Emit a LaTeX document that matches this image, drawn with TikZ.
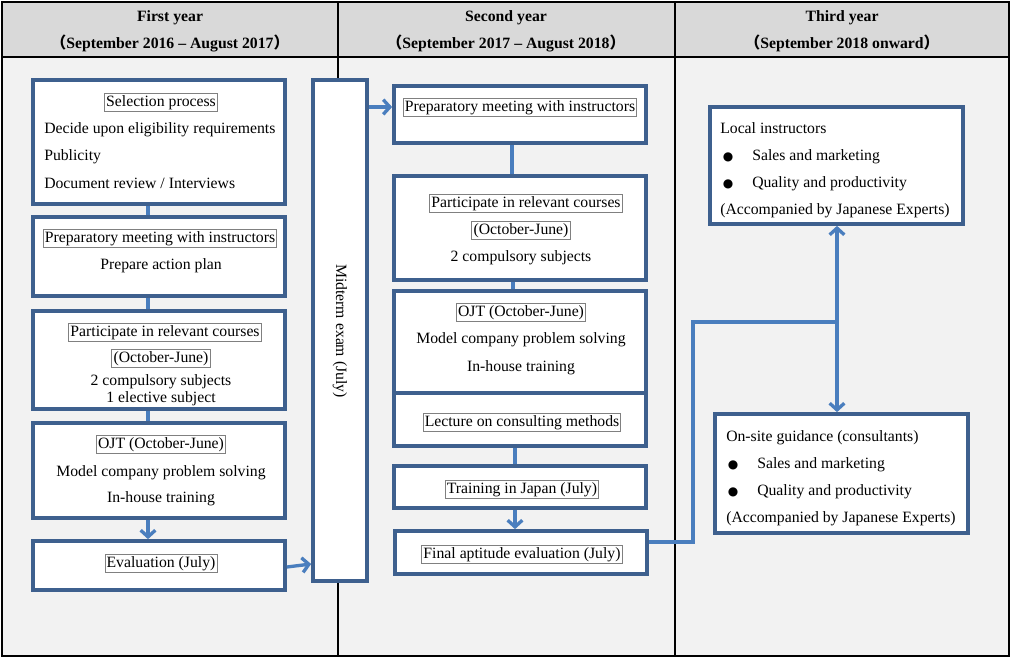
\documentclass[tikz,border=0pt]{standalone}
\usepackage{fontspec}
\setmainfont{Liberation Serif}
\newfontfamily\cjkparen{Noto Sans CJK JP}
\newfontfamily\symfont{DejaVu Sans}
\usetikzlibrary{arrows.meta,calc}

\definecolor{boxblue}{RGB}{62,96,142}
\definecolor{linkblue}{RGB}{74,126,190}
\definecolor{taggray}{RGB}{128,128,128}
\definecolor{headgray}{RGB}{217,217,217}
\definecolor{bodygray}{RGB}{242,242,242}

\newcommand{\lp}{{\cjkparen （}}
\newcommand{\rp}{{\cjkparen ）}}
\newcommand{\blt}{{\symfont\fontsize{9}{9}\selectfont ●}}

\begin{document}
\begin{tikzpicture}[x=0.75pt,y=-0.75pt,
  font=\fontsize{11.8}{14}\selectfont,
  blk/.style={draw=boxblue, line width=2.8pt, fill=white, inner sep=0pt},
  tag/.style={draw=taggray, line width=0.7pt, fill=white, inner sep=1.2pt,
              text height=8.6pt, text depth=2.6pt, yshift=-0.8pt},
  txt/.style={inner sep=0pt, text height=8.6pt, text depth=2.6pt, yshift=-0.8pt},
  head/.style={inner sep=0pt, text height=8.6pt, text depth=2.6pt, yshift=-0.6pt,
               font=\fontsize{11.8}{14}\selectfont\bfseries},
  link/.style={draw=linkblue, line width=2.5pt},
  arr/.style={link, -{Straight Barb[length=5pt,width=11pt]}}]

\useasboundingbox (0,0) rectangle (1011,658);

% table frame, header band and column rules
\draw[line width=0.8pt, fill=bodygray] (2,2) rectangle (1009,656);
\fill[headgray] (2,2) rectangle (1009,57);
\draw[line width=0.8pt] (2,2) rectangle (1009,656);
\draw[line width=0.8pt] (2,57) -- (1009,57);
\draw[line width=0.8pt] (338,2) -- (338,656);
\draw[line width=0.8pt] (675,2) -- (675,656);

\node[head] (h1a) at (170,17) {First year};
\node[head] (h1b) at (170,44) {\lp September 2016 – August 2017\rp};
\node[head] (h2a) at (506,17) {Second year};
\node[head] (h2b) at (506,44) {\lp September 2017 – August 2018\rp};
\node[head] (h3a) at (842,17) {Third year};
\node[head] (h3b) at (842,44) {\lp September 2018 onward\rp};

% ---- first year ----
\node[blk, minimum width=252*0.75pt, minimum height=124*0.75pt] (c1a) at (159,142) {};
\node[tag] (c1a1) at (161,101) {Selection process};
\node[txt, anchor=west] (c1a2) at (44,128) {Decide upon eligibility requirements};
\node[txt, anchor=west] (c1a3) at (44,155) {Publicity};
\node[txt, anchor=west] (c1a4) at (44,183) {Document review / Interviews};

\node[blk, minimum width=252*0.75pt, minimum height=79*0.75pt] (c1b) at (159,256.5) {};
\node[tag] (c1b1) at (160,237) {Preparatory meeting with instructors};
\node[txt] (c1b2) at (161,264) {Prepare action plan};

\node[blk, minimum width=252*0.75pt, minimum height=98*0.75pt] (c1c) at (159,360) {};
\node[tag] (c1c1) at (165,331) {Participate in relevant courses\hspace{7pt}};
\node[tag] (c1c2) at (161,357) {(October-June)};
\node[txt] (c1c3) at (161,380) {2 compulsory subjects};
\node[txt] (c1c4) at (161,397) {1 elective subject};

\node[blk, minimum width=252*0.75pt, minimum height=95*0.75pt] (c1d) at (159,470.5) {};
\node[tag] (c1d1) at (161,443) {OJT (October-June)};
\node[txt] (c1d2) at (161,471) {Model company problem solving};
\node[txt] (c1d3) at (161,497) {In-house training};

\node[blk, minimum width=252*0.75pt, minimum height=49*0.75pt] (c1e) at (159,565.5) {};
\node[tag] (c1e1) at (161,562) {Evaluation (July)};

% ---- midterm exam ----
\node[blk, minimum width=54*0.75pt, minimum height=501*0.75pt] (mid) at (340,330.5) {};
\node[inner sep=0pt, rotate=-90] (midt) at (340,331) {Midterm exam (July)};

% ---- second year ----
\node[blk, minimum width=252*0.75pt, minimum height=57*0.75pt] (c2a) at (520,114.5) {};
\node[tag] (c2a1) at (520,106) {Preparatory meeting with instructors};

\node[blk, minimum width=252*0.75pt, minimum height=104*0.75pt] (c2b) at (520,228) {};
\node[tag] (c2b1) at (526,202) {Participate in relevant courses\hspace{7pt}};
\node[tag] (c2b2) at (521,229) {(October-June)};
\node[txt] (c2b3) at (521,256) {2 compulsory subjects};

\node[blk, minimum width=252*0.75pt, minimum height=102*0.75pt] (c2c) at (520,342) {};
\node[tag] (c2c1) at (521,311) {OJT (October-June)};
\node[txt] (c2c2) at (521,338) {Model company problem solving};
\node[txt] (c2c3) at (521,366) {In-house training};

\node[blk, minimum width=252*0.75pt, minimum height=53*0.75pt] (c2d) at (520,419.5) {};
\node[tag] (c2d1) at (522,421) {Lecture on consulting methods};

\node[blk, minimum width=252*0.75pt, minimum height=42*0.75pt] (c2e) at (520,487) {};
\node[tag] (c2e1) at (522,488) {Training in Japan (July)};

\node[blk, minimum width=252*0.75pt, minimum height=43*0.75pt] (c2f) at (521,552.5) {};
\node[tag] (c2f1) at (522,553) {Final aptitude evaluation (July)};

% ---- third year ----
\node[blk, minimum width=253*0.75pt, minimum height=117*0.75pt] (t1) at (836.5,165.5) {};
\node[txt, anchor=west] (t1a) at (720,128) {Local instructors};
\node[txt] (t1b0) at (728,155) {\blt};
\node[txt, anchor=west] (t1b) at (752,155) {Sales and marketing};
\node[txt] (t1c0) at (728,182) {\blt};
\node[txt, anchor=west] (t1c) at (752,182) {Quality and productivity};
\node[txt, anchor=west] (t1d) at (720,209) {(Accompanied by Japanese Experts)};

\node[blk, minimum width=253*0.75pt, minimum height=119*0.75pt] (t2) at (841.5,473.5) {};
\node[txt, anchor=west] (t2a) at (726,436) {On-site guidance (consultants)};
\node[txt] (t2b0) at (733,463) {\blt};
\node[txt, anchor=west] (t2b) at (757,463) {Sales and marketing};
\node[txt] (t2c0) at (733,490) {\blt};
\node[txt, anchor=west] (t2c) at (757,490) {Quality and productivity};
\node[txt, anchor=west] (t2d) at (726,517) {(Accompanied by Japanese Experts)};

% ---- connectors ----
\draw[link] ($(c1a.south)+(-11,0)$) -- ($(c1b.north)+(-11,0)$);
\draw[link] ($(c1b.south)+(-11,0)$) -- ($(c1c.north)+(-11,0)$);
\draw[link] ($(c1c.south)+(-11,0)$) -- ($(c1d.north)+(-11,0)$);
\draw[arr]  ($(c1d.south)+(-11,0)$) -- ($(c1e.north)+(-11,0)$);
\draw[arr]  ($(c1e.east)+(0,1.5)$) -- ($(mid.west)+(0,233.5)$);
\draw[arr]  ($(mid.east)+(0,-223.5)$) -- ($(c2a.west)+(0,-7.5)$);

\draw[link] ($(c2a.south)+(-8,0)$) -- ($(c2b.north)+(-8,0)$);
\draw[link] ($(c2b.south)+(-7,0)$) -- ($(c2c.north)+(-7,0)$);
\draw[link] ($(c2d.south)+(-5,0)$) -- ($(c2e.north)+(-5,0)$);
\draw[arr]  ($(c2e.south)+(-5,0)$) -- ($(c2f.north)+(-6,0)$);

\coordinate (elb1) at (693,542);
\coordinate (elb2) at (693,322);
\coordinate (jn) at (837,322);
\draw[link] ($(c2f.east)+(0,-10.5)$) -- (elb1) -- (elb2) -- (jn);
\draw[arr] (jn) -- (t1.south -| jn);
\draw[arr] (jn) -- (t2.north -| jn);

\end{tikzpicture}
\end{document}
